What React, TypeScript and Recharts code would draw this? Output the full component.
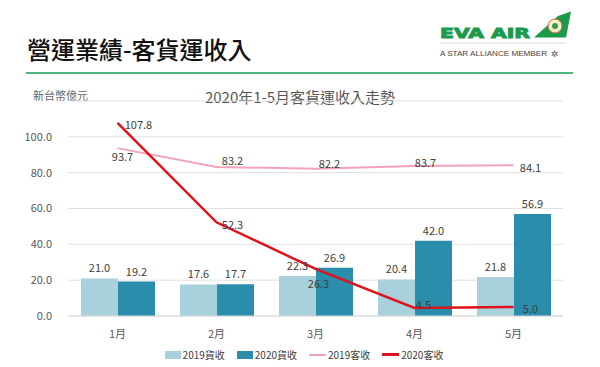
import React from "react";
import {
  ComposedChart,
  Bar,
  Line,
  XAxis,
  YAxis,
  CartesianGrid,
  LabelList,
} from "recharts";

const months = ["1月", "2月", "3月", "4月", "5月"];
const cargo2019 = [21.0, 17.6, 22.3, 20.4, 21.8];
const cargo2020 = [19.2, 17.7, 26.9, 42.0, 56.9];
const pax2019 = [93.7, 83.2, 82.2, 83.7, 84.1];
const pax2020 = [107.8, 52.3, 26.3, 4.5, 5.0];
const yTicks = [0, 20, 40, 60, 80, 100];

const seriesNames = ["2019貨收", "2020貨收", "2019客收", "2020客收"];

const data = months.map((m, i) => ({
  month: m,
  c19: cargo2019[i],
  c20: cargo2020[i],
  p19: pax2019[i],
  p20: pax2020[i],
}));

const FONT = "'Noto Sans CJK TC', 'Noto Sans', sans-serif";
const C_LIGHT = "#a9d1dc";
const C_DARK = "#2b8dac";
const C_PINK = "#f3a3b9";
const C_RED = "#e0121b";
const TXT = "#404040";
const GREEN = "#1a9a4a";

const pinkOffsets = [
  [5, 8],
  [16, -7],
  [14, -6],
  [11, -4],
  [17, 2],
];
const redOffsets = [
  [21, 1],
  [16, 2],
  [3, 14],
  [9, -4],
  [17, 1],
];

const makeLineLabel = (offsets: number[][]) => (props: any) => {
  const { x, y, value, index } = props;
  const [dx, dy] = offsets[index] || [0, 0];
  return (
    <text
      x={x + dx}
      y={y + dy}
      textAnchor="middle"
      dominantBaseline="central"
      fontSize={11}
      fill={TXT}
      fontFamily={FONT}
    >
      {Number(value).toFixed(1)}
    </text>
  );
};

const Logo = () => (
  <svg width={600} height={70} style={{ position: "absolute", left: 0, top: 0 }}>
    <text
      x={440}
      y={37.5}
      fontSize={13.5}
      fontWeight={900}
      fill={GREEN}
      stroke={GREEN}
      strokeWidth={0.9}
      fontFamily="'DejaVu Sans', sans-serif"
      textLength={90}
      lengthAdjust="spacingAndGlyphs"
    >
      EVA AIR
    </text>
    <polygon points="534,37.5 558,16 571,11.5 566,37.5" fill={GREEN} />
    <circle cx={555} cy={26} r={7} fill="#f5ecc8" stroke="#d06a3a" strokeWidth={1} />
    <circle cx={555} cy={26} r={3} fill="#3a9a4a" />
    <line x1={440} y1={43} x2={566} y2={43} stroke="#d0d0d0" strokeWidth={0.8} />
    <text
      x={440}
      y={55.5}
      fontSize={8}
      fill="#444"
      fontFamily="'Liberation Sans', sans-serif"
      textLength={107}
      lengthAdjust="spacingAndGlyphs"
    >
      A STAR ALLIANCE MEMBER
    </text>
    <text x={551} y={57} fontSize={9} fill="#555" fontFamily="'DejaVu Sans', sans-serif">
      ✲
    </text>
  </svg>
);

const LegendBox = () => {
  const items = [
    { name: seriesNames[0], color: C_LIGHT, type: "rect" },
    { name: seriesNames[1], color: C_DARK, type: "rect" },
    { name: seriesNames[2], color: C_PINK, type: "line" },
    { name: seriesNames[3], color: C_RED, type: "line" },
  ];
  return (
    <div
      style={{
        position: "absolute",
        left: 0,
        top: 347,
        width: 600,
        display: "flex",
        justifyContent: "center",
        gap: 12,
        fontFamily: FONT,
        fontSize: 10,
        color: TXT,
        paddingLeft: 4,
      }}
    >
      {items.map((it) => (
        <div key={it.name} style={{ display: "flex", alignItems: "center", gap: 2 }}>
          {it.type === "rect" ? (
            <div style={{ width: 16, height: 8, background: it.color }} />
          ) : (
            <div style={{ width: 17, height: it.color === C_RED ? 2.5 : 2, background: it.color }} />
          )}
          <span>{it.name}</span>
        </div>
      ))}
    </div>
  );
};

export default function App() {
  return (
    <div
      style={{
        position: "fixed",
        left: 0,
        top: 0,
        width: 600,
        height: 367,
        background: "#ffffff",
        overflow: "hidden",
        fontFamily: FONT,
      }}
    >
      <div
        style={{
          position: "absolute",
          left: 27,
          top: 33,
          fontSize: 24,
          lineHeight: "32px",
          fontWeight: 500,
          color: "#111",
          fontFamily: FONT,
          letterSpacing: 0,
        }}
      >
        營運業績-客貨運收入
      </div>
      <Logo />
      <div
        style={{
          position: "absolute",
          left: 26,
          top: 72,
          width: 547,
          height: 2,
          background: "#4cb87e",
        }}
      />
      <div
        style={{
          position: "absolute",
          left: 33,
          top: 87,
          fontSize: 11,
          color: "#666",
        }}
      >
        新台幣億元
      </div>
      <div
        style={{
          position: "absolute",
          left: 0,
          width: 600,
          top: 86,
          textAlign: "center",
          fontSize: 15,
          color: "#555",
        }}
      >
        2020年1-5月客貨運收入走勢
      </div>
      <div style={{ position: "absolute", left: 0, top: 0 }}>
        <ComposedChart
          width={600}
          height={367}
          data={data}
          margin={{ top: 101, right: 37, bottom: 21, left: 0 }}
          barGap={0}
          barCategoryGap={13}
        >
          <CartesianGrid vertical={false} stroke="#e0e0e0" />
          <XAxis
            dataKey="month"
            height={30}
            tickLine={false}
            axisLine={{ stroke: "#d9d9d9" }}
            tick={{ fontSize: 11, fill: "#595959", fontFamily: FONT }}
            tickMargin={8}
          />
          <YAxis
            width={68}
            domain={[0, 120]}
            ticks={yTicks}
            allowDataOverflow
            axisLine={false}
            tickLine={false}
            tickFormatter={(v: number) => v.toFixed(1)}
            tick={{ fontSize: 11, fill: "#595959", fontFamily: FONT }}
            tickMargin={10}
          />
          <Bar dataKey="c19" name={seriesNames[0]} fill={C_LIGHT} isAnimationActive={false}>
            <LabelList
              dataKey="c19"
              position="top"
              offset={6}
              formatter={(v: any) => Number(v).toFixed(1)}
              style={{ fontSize: 11, fill: TXT, fontFamily: FONT }}
            />
          </Bar>
          <Bar dataKey="c20" name={seriesNames[1]} fill={C_DARK} isAnimationActive={false}>
            <LabelList
              dataKey="c20"
              position="top"
              offset={6}
              formatter={(v: any) => Number(v).toFixed(1)}
              style={{ fontSize: 11, fill: TXT, fontFamily: FONT }}
            />
          </Bar>
          <Line
            dataKey="p19"
            name={seriesNames[2]}
            stroke={C_PINK}
            strokeWidth={2}
            dot={false}
            type="linear"
            isAnimationActive={false}
          >
            <LabelList dataKey="p19" content={makeLineLabel(pinkOffsets)} />
          </Line>
          <Line
            dataKey="p20"
            name={seriesNames[3]}
            stroke={C_RED}
            strokeWidth={2.5}
            dot={false}
            type="linear"
            isAnimationActive={false}
          >
            <LabelList dataKey="p20" content={makeLineLabel(redOffsets)} />
          </Line>
        </ComposedChart>
      </div>
      <LegendBox />
    </div>
  );
}
